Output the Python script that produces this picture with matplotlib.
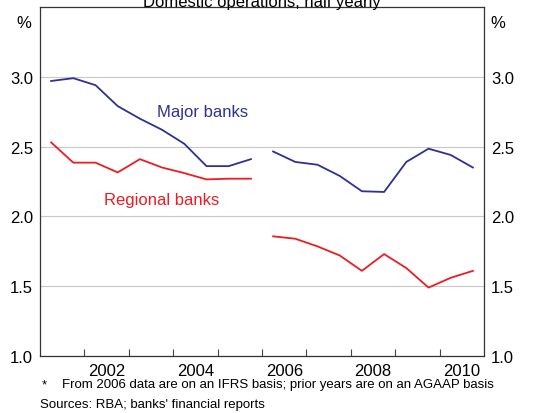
import numpy as np
import matplotlib.pyplot as plt

plt.rcParams['font.family'] = ['Liberation Sans', 'DejaVu Sans']

# Half-yearly observations, AGAAP basis (2001-2005) and IFRS basis (2006-2010)
dates_pre = [2001.25, 2001.75, 2002.25, 2002.75, 2003.25, 2003.75, 2004.25, 2004.75, 2005.25, 2005.75]
dates_post = [2006.25, 2006.75, 2007.25, 2007.75, 2008.25, 2008.75, 2009.25, 2009.75, 2010.25, 2010.75]

major_pre = [2.97, 2.99, 2.94, 2.79, 2.70, 2.62, 2.52, 2.36, 2.36, 2.41]
major_post = [2.465, 2.39, 2.37, 2.29, 2.18, 2.175, 2.39, 2.485, 2.44, 2.35]

regional_pre = [2.53, 2.385, 2.385, 2.315, 2.41, 2.35, 2.31, 2.265, 2.27, 2.27]
regional_post = [1.857, 1.84, 1.785, 1.72, 1.61, 1.73, 1.63, 1.49, 1.56, 1.61]

yticks = [1.0, 1.5, 2.0, 2.5, 3.0]
year_labels = [2002, 2004, 2006, 2008, 2010]

blue = '#2e3192'
red = '#ed1c24'

fig = plt.figure(figsize=(5.58, 4.14), dpi=100)
ax = fig.add_axes([0.0717, 0.1377, 0.7957, 0.843])

ax.plot(dates_pre, major_pre, color=blue, lw=1.3)
ax.plot(dates_post, major_post, color=blue, lw=1.3)
ax.plot(dates_pre, regional_pre, color=red, lw=1.3)
ax.plot(dates_post, regional_post, color=red, lw=1.3)

ax.set_xlim(2001, 2011)
ax.set_ylim(1.0, 3.5)

# year boundary ticks, labels centred mid-year
ax.set_xticks(np.arange(2002, 2011))
ax.set_xticklabels([])
ax.set_xticks([y + 0.5 for y in year_labels], minor=True)
ax.set_xticklabels([str(y) for y in year_labels], minor=True)
ax.tick_params(axis='x', which='major', direction='in', length=5, color='#444444')
ax.tick_params(axis='x', which='minor', length=0, labelsize=12, pad=5)

ax.set_yticks(yticks)
ax.set_yticklabels(['%.1f' % v for v in yticks])
ax.tick_params(axis='y', length=0, labelsize=12, left=True, right=True,
               labelleft=True, labelright=True, pad=5)
ax.grid(axis='y', color='#c8c8c8', lw=0.8)
ax.set_axisbelow(True)

for s in ax.spines.values():
    s.set_color('#333333')
    s.set_linewidth(0.9)

ax.text(-0.02, 0.955, '%', transform=ax.transAxes, ha='right', va='center', fontsize=12)
ax.text(1.015, 0.955, '%', transform=ax.transAxes, ha='left', va='center', fontsize=12)

ax.text(2004.65, 2.75, 'Major banks', color=blue, fontsize=12, ha='center', va='center')
ax.text(2003.75, 2.12, 'Regional banks', color=red, fontsize=12, ha='center', va='center')

fig.text(0.47, 0.995, 'Domestic operations, half yearly', ha='center', va='center', fontsize=12)

fig.text(0.075, 0.07, '*', fontsize=9.5, ha='left', va='center')
fig.text(0.111, 0.07, 'From 2006 data are on an IFRS basis; prior years are on an AGAAP basis',
         fontsize=9.5, ha='left', va='center')
fig.text(0.0717, 0.022, "Sources: RBA; banks' financial reports", fontsize=9.5, ha='left', va='center')

fig.savefig('out.png', dpi=100)
